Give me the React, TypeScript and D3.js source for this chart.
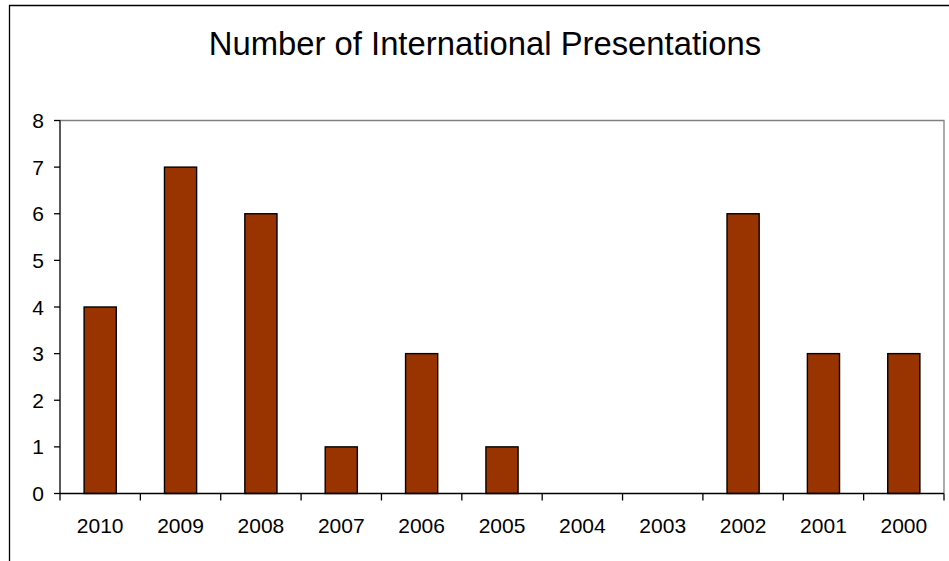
import React from "react";
import * as d3 from "d3";

const categories = ["2010", "2009", "2008", "2007", "2006", "2005", "2004", "2003", "2002", "2001", "2000"];
const values = [4, 7, 6, 1, 3, 1, 0, 0, 6, 3, 3];
const yTicks = [0, 1, 2, 3, 4, 5, 6, 7, 8];
const title = "Number of International Presentations";

export default function App() {
  const W = 949, H = 561;
  const left = 60, right = 944, top = 120.5, bottom = 493.5;
  const x = d3.scaleBand<string>().domain(categories).range([left, right]).paddingInner(0).paddingOuter(0);
  const y = d3.scaleLinear().domain([0, 8]).range([bottom, top]);
  const bw = x.bandwidth() * 0.4;
  const font = "'Liberation Sans', Arial, sans-serif";
  return (
    <svg width={W} height={H} style={{ position: "absolute", left: 0, top: 0 }}>
      <rect x={0} y={0} width={W} height={H} fill="#fff" />
      <path d={`M9.5,${H} V5.5 H${W}`} fill="none" stroke="#000" strokeWidth={1.3} />
      <text x={485} y={55} textAnchor="middle" fontFamily={font} fontSize={32.8} fill="#000">{title}</text>
      <path d={`M${left},${top} H${right} V${bottom}`} fill="none" stroke="#808080" strokeWidth={1.3} />
      {categories.map((c, i) => (
        <rect key={c} x={(x(c) as number) + (x.bandwidth() - bw) / 2} y={y(values[i])} width={bw}
          height={y(0) - y(values[i])} fill="#993300" stroke="#000" strokeWidth={1.4} />
      ))}
      <line x1={left} x2={left} y1={top} y2={bottom} stroke="#000" strokeWidth={1.3} />
      <line x1={left} x2={right} y1={bottom} y2={bottom} stroke="#000" strokeWidth={1.3} />
      {yTicks.map(t => (
        <g key={t}>
          <line x1={left - 6} x2={left} y1={y(t)} y2={y(t)} stroke="#000" strokeWidth={1.3} />
          <text x={44} y={y(t)} dy="0.36em" textAnchor="end" fontFamily={font} fontSize={21}>{t}</text>
        </g>
      ))}
      {categories.map(c => (
        <line key={"t" + c} x1={x(c) as number} x2={x(c) as number} y1={bottom} y2={bottom + 7} stroke="#000" strokeWidth={1.3} />
      ))}
      <line x1={right} x2={right} y1={bottom} y2={bottom + 7} stroke="#000" strokeWidth={1.3} />
      {categories.map(c => (
        <text key={"l" + c} x={(x(c) as number) + x.bandwidth() / 2} y={533} textAnchor="middle" fontFamily={font} fontSize={21}>{c}</text>
      ))}
    </svg>
  );
}
